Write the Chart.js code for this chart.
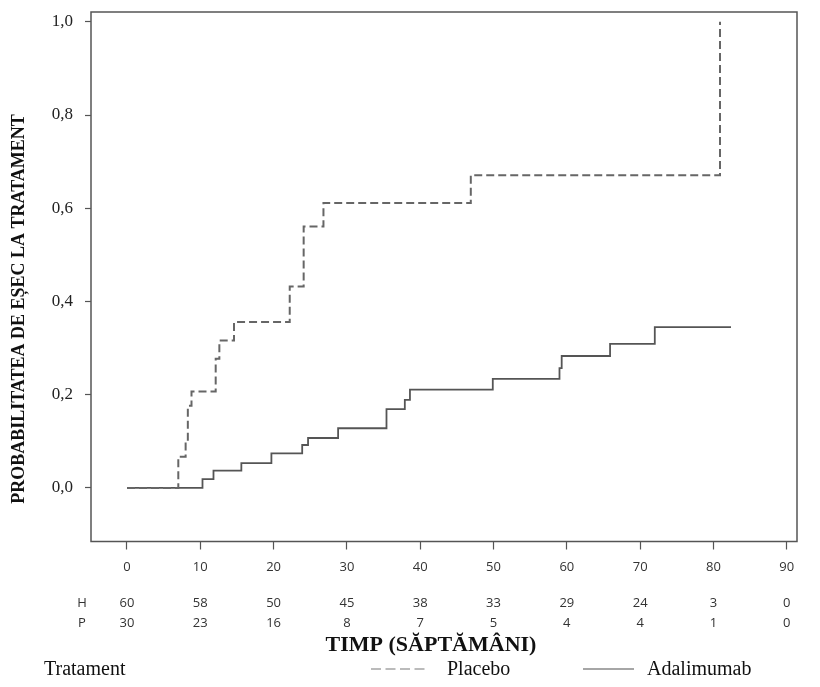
<!DOCTYPE html>
<html><head><meta charset="utf-8">
<script src="https://cdn.jsdelivr.net/npm/chart.js@4.4.1/dist/chart.umd.min.js"></script>
<style>html,body{margin:0;padding:0;background:#fff}#wrap{width:820px;height:687px;position:relative}</style>
</head><body><div id="wrap"><canvas id="c" width="820" height="687"></canvas></div>
<script>
// Kaplan-Meier style failure probability
const placeboTimes = [0, 7.0, 8.0, 8.3, 8.8, 12.1, 12.6, 14.6, 22.2, 24.1, 26.8, 46.9, 80.9];
const placeboProb  = [0, 0.067, 0.10, 0.176, 0.207, 0.277, 0.316, 0.356, 0.432, 0.561, 0.611, 0.671, 1.0];
const adaTimes = [0, 10.3, 11.8, 15.6, 19.7, 23.9, 24.7, 28.8, 35.4, 37.9, 38.6, 49.9, 59.0, 59.3, 65.9, 72.0, 82.4];
const adaProb  = [0, 0.019, 0.037, 0.053, 0.074, 0.092, 0.107, 0.128, 0.169, 0.189, 0.211, 0.234, 0.257, 0.283, 0.309, 0.345, 0.345];
// Numbers at risk
const riskTimes = [0, 10, 20, 30, 40, 50, 60, 70, 80, 90];
const riskH = [60, 58, 50, 45, 38, 33, 29, 24, 3, 0];
const riskP = [30, 23, 16, 8, 7, 5, 4, 4, 1, 0];
const yTicks = [0, 0.2, 0.4, 0.6, 0.8, 1.0];
const seriesNames = ['Placebo', 'Adalimumab'];
const yTitle = 'PROBABILITATEA DE EȘEC LA TRATAMENT';
const xTitle = 'TIMP (SĂPTĂMÂNI)';
const legendTitle = 'Tratament';

const toPts = (t, p) => t.map((v, i) => ({x: v, y: p[i]}));

const extras = {
  id: 'extras',
  afterDraw(chart) {
    const ctx = chart.ctx, a = chart.chartArea, xs = chart.scales.x;
    ctx.save();
    // frame
    ctx.strokeStyle = '#555'; ctx.lineWidth = 1.5;
    ctx.strokeRect(a.left, a.top, a.right - a.left, a.bottom - a.top);
    // risk table
    ctx.fillStyle = '#333';
    ctx.font = '13px "Open Sans", sans-serif';
    ctx.textAlign = 'center'; ctx.textBaseline = 'middle';
    ctx.fillText('H', 82, 603);
    ctx.fillText('P', 82, 623);
    riskTimes.forEach((t, i) => {
      const px = xs.getPixelForValue(t);
      ctx.fillText(String(riskH[i]), px, 603);
      ctx.fillText(String(riskP[i]), px, 623);
    });
    // x title
    ctx.fillStyle = '#111';
    ctx.font = 'bold 22px "Liberation Serif", serif';
    ctx.fillText(xTitle, 431, 645);
    // y title
    ctx.save();
    ctx.translate(19, 309);
    ctx.rotate(-Math.PI / 2);
    ctx.font = 'bold 18px "Liberation Serif", serif';
    ctx.fillText(yTitle, 0, 0);
    ctx.restore();
    // legend
    ctx.font = '20px "Liberation Serif", serif';
    ctx.textAlign = 'left';
    ctx.fillStyle = '#111';
    ctx.fillText(legendTitle, 44, 670);
    ctx.strokeStyle = '#bbb'; ctx.lineWidth = 2; ctx.setLineDash([10, 4.5]);
    ctx.beginPath(); ctx.moveTo(371, 669); ctx.lineTo(426, 669); ctx.stroke();
    ctx.setLineDash([]);
    ctx.fillText(seriesNames[0], 447, 670);
    ctx.strokeStyle = '#888'; ctx.lineWidth = 1.5;
    ctx.beginPath(); ctx.moveTo(583, 669); ctx.lineTo(634, 669); ctx.stroke();
    ctx.fillText(seriesNames[1], 647, 670);
    ctx.restore();
  }
};

new Chart(document.getElementById('c'), {
  type: 'line',
  data: {
    datasets: [
      { label: seriesNames[0], data: toPts(placeboTimes, placeboProb), stepped: true,
        borderColor: '#666', borderWidth: 2, borderDash: [8, 4], pointRadius: 0, fill: false },
      { label: seriesNames[1], data: toPts(adaTimes, adaProb), stepped: true,
        borderColor: '#555', borderWidth: 1.8, pointRadius: 0, fill: false }
    ]
  },
  options: {
    responsive: false, animation: false, devicePixelRatio: 1,
    layout: { padding: { top: 12, right: 23, left: 0, bottom: 0 } },
    plugins: { legend: { display: false }, tooltip: { enabled: false } },
    scales: {
      x: {
        type: 'linear', min: -4.91, max: 91.4,
        afterFit(s) { s.height = 145.5; s.paddingLeft = 0; s.paddingRight = 0; },
        afterBuildTicks(s) { s.ticks = riskTimes.map(v => ({ value: v })); },
        grid: { drawOnChartArea: false, drawTicks: true, tickLength: 8, tickColor: '#555', tickWidth: 1.2 },
        border: { display: false },
        ticks: { font: { family: 'Open Sans', size: 13 }, color: '#333', padding: 10, maxRotation: 0, autoSkip: false }
      },
      y: {
        type: 'linear', min: -0.115, max: 1.021,
        afterFit(s) { s.width = 91; s.paddingTop = 0; s.paddingBottom = 0; },
        afterBuildTicks(s) { s.ticks = yTicks.map(v => ({ value: v })); },
        grid: { drawOnChartArea: false, drawTicks: true, tickLength: 6, tickColor: '#555', tickWidth: 1.2 },
        border: { display: false },
        ticks: { callback: v => v.toFixed(1).replace('.', ','), font: { family: 'Liberation Serif', size: 17 }, color: '#222', padding: 12 }
      }
    }
  },
  plugins: [extras]
});
</script>
</body></html>
